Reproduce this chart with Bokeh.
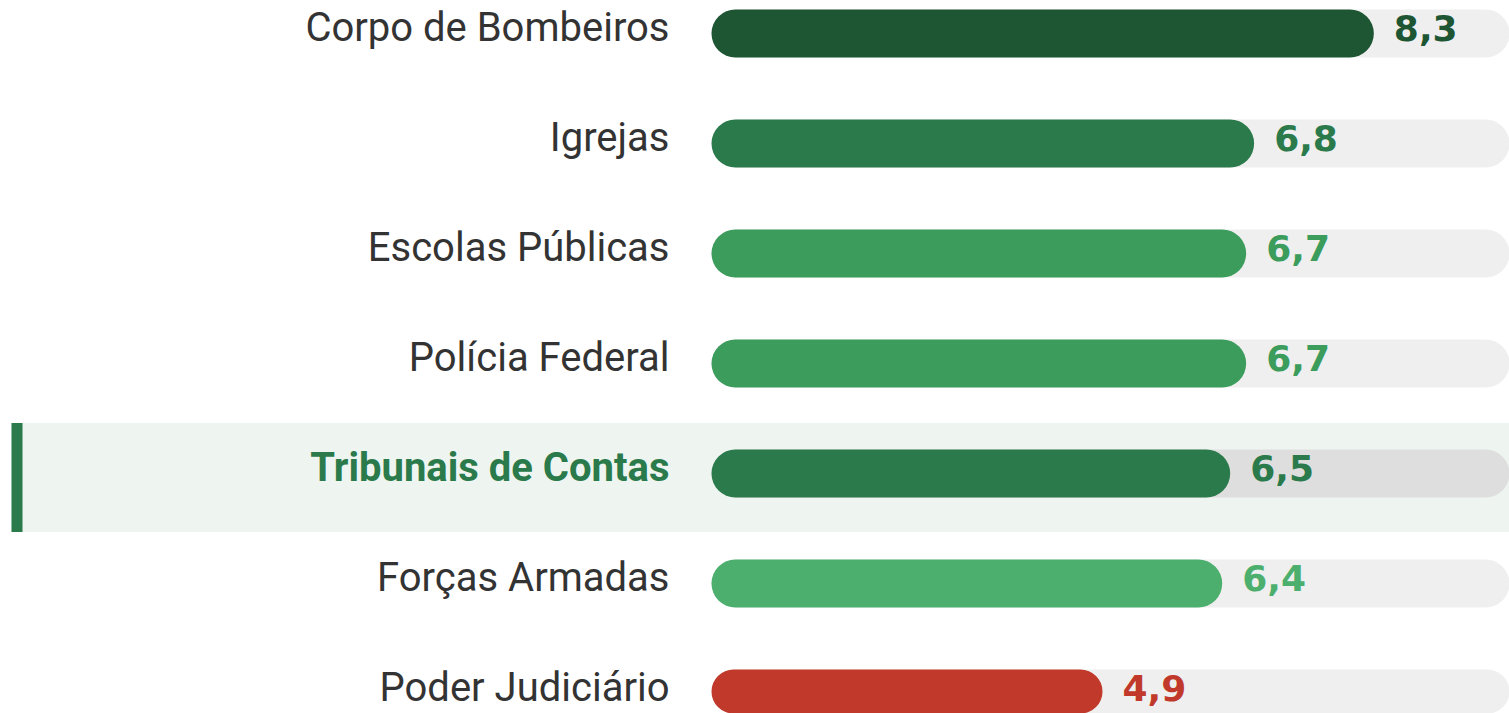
from bokeh.plotting import figure
from bokeh.models import Range1d, ColumnDataSource
from bokeh.core.properties import value
from bokeh.embed import file_html
from bokeh.resources import INLINE

categories = ["Corpo de Bombeiros", "Igrejas", "Escolas Públicas", "Polícia Federal",
              "Tribunais de Contas", "Forças Armadas", "Poder Judiciário"]
scores = [8.3, 6.8, 6.7, 6.7, 6.5, 6.4, 4.9]
bar_colors = ["#1e5634", "#2b7a4b", "#3c9c5c", "#3c9c5c", "#2b7a4b", "#4caf6e", "#c0392b"]
highlight = "Tribunais de Contas"
scale_max = 10

W, H = 1509, 713
bar_left_px = 711
px_per_unit = (W - bar_left_px) / scale_max
x0 = -bar_left_px / px_per_unit
x1 = scale_max
row_px = 110
first_px = 33
y_top = -first_px / row_px
y_bot = (H - first_px) / row_px


def px_x(px):
    return x0 + px / px_per_unit


n = len(categories)
ys = list(range(n))
hi = categories.index(highlight)

p = figure(width=W, height=H, x_range=Range1d(x0, x1), y_range=Range1d(y_bot, y_top),
           output_backend="svg", toolbar_location=None, min_border=0)
p.axis.visible = False
p.grid.visible = False
p.outline_line_color = None
p.background_fill_color = "white"
p.border_fill_color = "white"

# highlight band
band_half = 109 / 2 / row_px
band_c = hi + 4 / row_px
p.quad(left=[px_x(11)], right=[x1], top=[band_c - band_half], bottom=[band_c + band_half],
       fill_color="#eef5f0", line_color=None)
p.quad(left=[px_x(11)], right=[px_x(22)], top=[band_c - band_half], bottom=[band_c + band_half],
       fill_color="#2b7a4b", line_color=None)

bh = 48 / row_px
track_colors = ["#dedede" if c == highlight else "#efefef" for c in categories]
p.hbar(y=ys, left=0, right=[scale_max] * n, height=bh, fill_color=track_colors,
       line_color=None, border_radius=24)

src = ColumnDataSource(dict(y=ys, v=scores, c=bar_colors,
                            lab=[f"{s:.1f}".replace(".", ",") for s in scores],
                            cat=categories))
p.hbar(y="y", left=0, right="v", height=bh, fill_color="c", line_color=None,
       border_radius=24, source=src)

p.text(x="v", y="y", text="lab", text_color="c", text_font=value("DejaVu Sans"),
       text_font_style="bold", text_font_size="36px", text_baseline="middle",
       text_align="left", x_offset=20, y_offset=-6, source=src)

normal = [i for i in range(n) if i != hi]
p.text(x=[0] * len(normal), y=[ys[i] for i in normal], text=[categories[i] for i in normal],
       text_color="#333333", text_font=value("Roboto"), text_font_size="40px",
       text_baseline="middle", text_align="right", x_offset=-42, y_offset=-6)
p.text(x=[0], y=[ys[hi]], text=[categories[hi]], text_color="#2b7a4b",
       text_font=value("Roboto"), text_font_style="bold", text_font_size="40px",
       text_baseline="middle", text_align="right", x_offset=-42, y_offset=-6)

open("out.html", "w").write(file_html(p, INLINE))
